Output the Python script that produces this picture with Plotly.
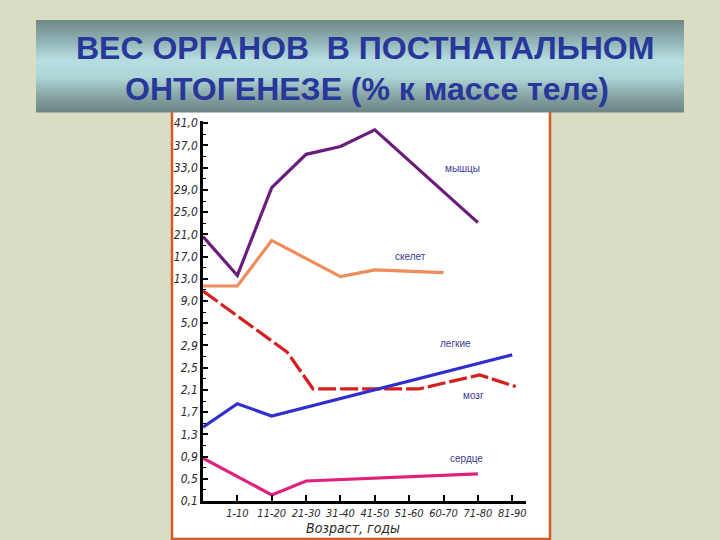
import numpy as np
import plotly.graph_objects as go

# ---------------- data ----------------
AGE_LABELS = ["1-10", "11-20", "21-30", "31-40", "41-50", "51-60", "60-70", "71-80", "81-90"]
AGE_POS = [1, 2, 3, 4, 5, 6, 7, 8, 9]          # 0 = birth (y-axis)

Y_TICK_VALUES = [0.1, 0.5, 0.9, 1.3, 1.7, 2.1, 2.5, 2.9, 5.0, 9.0, 13.0, 17.0,
                 21.0, 25.0, 29.0, 33.0, 37.0, 41.0]
Y_TICK_TEXT = ["0,1", "0,5", "0,9", "1,3", "1,7", "2,1", "2,5", "2,9", "5,0", "9,0",
               "13,0", "17,0", "21,0", "25,0", "29,0", "33,0", "37,0", "41,0"]

muscles_x = [0, 1, 2, 3, 4, 5, 8]
muscles_y = [20.6, 13.6, 29.4, 35.4, 36.8, 39.8, 23.1]

skeleton_x = [0, 1, 2, 4, 5, 7]
skeleton_y = [11.7, 11.7, 19.9, 13.4, 14.6, 14.1]

brain_x = [0, 2.45, 3.2, 6.3, 8.05, 9.1]
brain_y = [10.8, 2.78, 2.12, 2.12, 2.37, 2.16]

lungs_x = [0, 1, 2, 9]
lungs_y = [1.43, 1.85, 1.63, 2.73]

heart_x = [0, 2, 3, 8]
heart_y = [0.87, 0.21, 0.46, 0.59]

# ---------------- helpers ----------------
tick_idx = np.arange(len(Y_TICK_VALUES))


def to_axis(vals):
    return np.interp(vals, Y_TICK_VALUES, tick_idx)


W, H = 720, 540
PL, PR, PT, PB = 203, 526, 121, 501   # plot area in pixels


def px(x):
    return (x - PL) / (PR - PL)


def py(y):
    return (PB - y) / (PB - PT)


fig = go.Figure()

series = [
    (muscles_x, muscles_y, "#6b1b7b", "solid"),
    (skeleton_x, skeleton_y, "#f08c5c", "solid"),
    (brain_x, brain_y, "#d62020", "18px,4px"),
    (lungs_x, lungs_y, "#2f2fcf", "solid"),
    (heart_x, heart_y, "#e0207c", "solid"),
]
for xs, ys, col, dash in series:
    fig.add_trace(go.Scatter(x=xs, y=to_axis(ys), mode="lines",
                             line=dict(color=col, width=3.2, dash=dash),
                             showlegend=False, hoverinfo="skip", cliponaxis=False))

shapes = []
# chart frame
shapes.append(dict(type="rect", xref="paper", yref="paper",
                   x0=px(172), x1=px(550), y0=py(539), y1=py(110),
                   fillcolor="white", line=dict(color="#d65a28", width=2.5), layer="below"))

# title box gradient (vertical)
stops_y = [20, 38, 60, 78, 96, 112]
stops_c = [(0x6e, 0x88, 0x88), (0x8c, 0xac, 0xae), (0xb6, 0xde, 0xe1),
           (0xae, 0xd4, 0xd6), (0x88, 0xa4, 0xa4), (0x6c, 0x84, 0x84)]
n = 46
edges = np.linspace(20, 112, n + 1)
for i in range(n):
    ym = 0.5 * (edges[i] + edges[i + 1])
    c = [int(round(np.interp(ym, stops_y, [s[k] for s in stops_c]))) for k in range(3)]
    shapes.append(dict(type="rect", xref="paper", yref="paper",
                       x0=px(36), x1=px(684), y0=py(edges[i + 1] + 0.6), y1=py(edges[i]),
                       fillcolor="rgb(%d,%d,%d)" % tuple(c), line=dict(width=0), layer="below"))

annotations = []
title_font = dict(family="Liberation Sans, Arial, sans-serif", size=32, color="#28379a",
                  weight="bold")
annotations.append(dict(xref="paper", yref="paper", x=px(365), y=py(48),
                        text="ВЕС ОРГАНОВ  В ПОСТНАТАЛЬНОМ", showarrow=False,
                        font=title_font, xanchor="center", yanchor="middle"))
annotations.append(dict(xref="paper", yref="paper", x=px(367), y=py(89),
                        text="ОНТОГЕНЕЗЕ (% к массе теле)", showarrow=False,
                        font=title_font, xanchor="center", yanchor="middle"))

label_font = dict(family="Liberation Sans, Arial, sans-serif", size=10, color="#3b3b8f")
for txt, lx, ly in [("мышцы", 462, 168), ("скелет", 410, 256), ("легкие", 455, 343),
                    ("мозг", 473, 395), ("сердце", 466, 458)]:
    annotations.append(dict(xref="paper", yref="paper", x=px(lx), y=py(ly), text=txt,
                            showarrow=False, font=label_font,
                            xanchor="center", yanchor="middle"))

axis_family = "Liberation Sans Narrow, DejaVu Sans Condensed, Arial, sans-serif"
y_font = dict(family=axis_family, size=12, color="#2a2a2a", style="italic")
x_font = dict(family=axis_family, size=11, color="#2a2a2a", style="italic")

annotations.append(dict(xref="paper", yref="paper", x=px(353), y=py(528),
                        text="Возраст, годы", showarrow=False,
                        font=dict(family=axis_family, size=14, color="#2a2a2a",
                                  style="italic"),
                        xanchor="center", yanchor="middle"))

fig.update_layout(
    width=W, height=H,
    margin=dict(l=PL, r=W - PR, t=PT, b=H - PB, autoexpand=False),
    paper_bgcolor="#dadcc3",
    plot_bgcolor="white",
    shapes=shapes,
    annotations=annotations,
    xaxis=dict(range=[0, 9.4], tickvals=AGE_POS, ticktext=AGE_LABELS,
               showgrid=False, zeroline=False, showline=True, linecolor="black",
               linewidth=2.5, ticks="inside", ticklen=6, tickwidth=1.5, tickcolor="black",
               tickfont=x_font, fixedrange=True),
    yaxis=dict(range=[0, 17.1], tickvals=list(tick_idx), ticktext=Y_TICK_TEXT,
               showgrid=False, zeroline=False, showline=True, linecolor="black",
               linewidth=2.5, ticks="inside", ticklen=5, tickwidth=1.5, tickcolor="black",
               tickfont=y_font,
               minor=dict(tickvals=list(tick_idx[:-1] + 0.5), ticks="inside", ticklen=3,
                          tickwidth=1, tickcolor="black"),
               fixedrange=True),
)

fig.write_html(
    "out.html",
    config={"displayModeBar": False},
    post_script="document.body.style.margin='0';document.body.style.padding='0';"
                "document.body.style.background='#dadcc3';"
                "document.body.style.overflow='hidden';",
)
